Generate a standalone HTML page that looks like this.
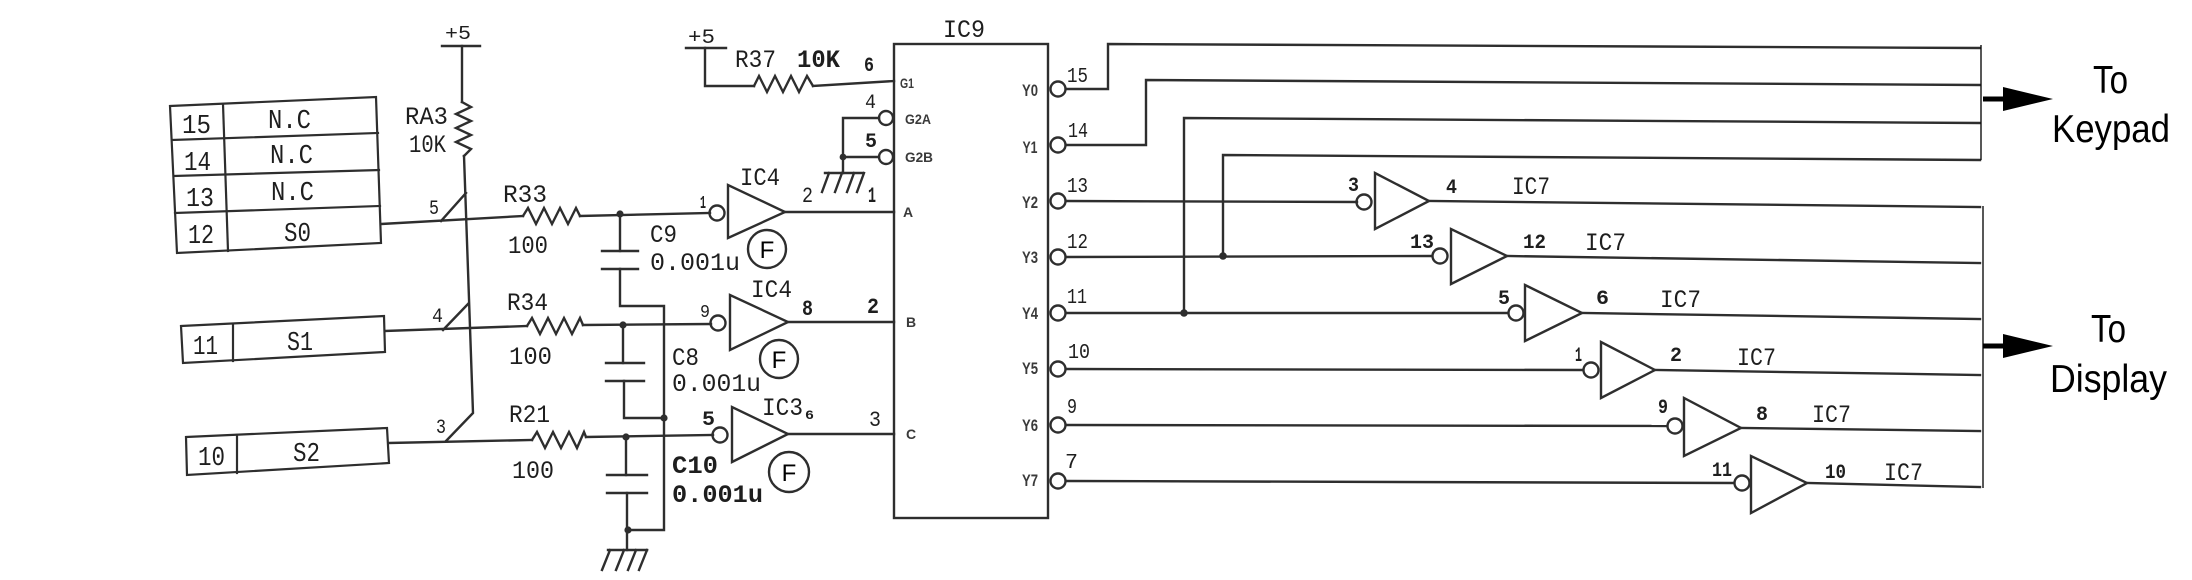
<!DOCTYPE html>
<html><head><meta charset="utf-8"><style>
html,body{margin:0;padding:0;background:#fff;}
svg{display:block;}
.w{fill:none;stroke:#2e2e2e;stroke-width:2.4;stroke-linejoin:miter;stroke-linecap:square;}
.t{fill:none;stroke:#111;stroke-width:1.4;}
.m{font-family:"Liberation Mono",monospace;fill:#1e1e1e;}
.b{font-family:"Liberation Sans",sans-serif;font-weight:bold;fill:#3a3a3a;}
.s{font-family:"Liberation Sans",sans-serif;fill:#000;}
</style></head><body>
<svg width="2192" height="580" viewBox="0 0 2192 580" xmlns="http://www.w3.org/2000/svg">
<rect width="2192" height="580" fill="#fff"/>

<!-- Connector boxes -->
<g class="w" style="stroke-width:2.2">
<polygon points="170,106 376,97 381,243 177,253"/>
<line x1="223" y1="104" x2="228" y2="251"/>
<line x1="172" y1="140" x2="378" y2="133"/>
<line x1="174" y1="176" x2="379" y2="170"/>
<line x1="175" y1="213" x2="380" y2="206"/>
<polygon points="181,326 384,316 385,352 183,363"/>
<line x1="233" y1="324" x2="233" y2="361"/>
<polygon points="186,437 387,428 389,463 187,475"/>
<line x1="237" y1="435" x2="237" y2="473"/>
</g>
<g class="m" font-size="27">
<text x="182" y="133" textLength="29" lengthAdjust="spacingAndGlyphs">15</text>
<text x="268" y="128" textLength="43" lengthAdjust="spacingAndGlyphs">N.C</text>
<text x="184" y="170" textLength="27" lengthAdjust="spacingAndGlyphs">14</text>
<text x="270" y="163" textLength="43" lengthAdjust="spacingAndGlyphs">N.C</text>
<text x="186" y="206" textLength="28" lengthAdjust="spacingAndGlyphs">13</text>
<text x="271" y="200" textLength="43" lengthAdjust="spacingAndGlyphs">N.C</text>
<text x="188" y="243" textLength="26" lengthAdjust="spacingAndGlyphs">12</text>
<text x="284" y="241" textLength="27" lengthAdjust="spacingAndGlyphs">S0</text>
<text x="193" y="354" textLength="25" lengthAdjust="spacingAndGlyphs">11</text>
<text x="287" y="350" textLength="26" lengthAdjust="spacingAndGlyphs">S1</text>
<text x="198" y="465" textLength="27" lengthAdjust="spacingAndGlyphs">10</text>
<text x="293" y="461" textLength="27" lengthAdjust="spacingAndGlyphs">S2</text>
</g>

<!-- RA3 pull-up and bus -->
<g class="w">
<path d="M442,46 H480"/>
<path d="M462,46 V102"/>
<path d="M462,102 L471,107 L456,114 L471,121 L456,128 L471,135 L456,142 L471,149 L464,156"/>
<path d="M464,156 L473,413 L446,441"/>
<path d="M441,221 L466,193"/>
<path d="M443,330 L468,304"/>
<!-- S lines -->
<path d="M381,224 L523,216"/>
<path d="M523,216 L528,208 L536,224 L544,208 L552,224 L560,208 L568,224 L576,208 L580,216"/>
<path d="M580,216 L710,213"/>
<path d="M385,331 L527,326"/>
<path d="M527,326 L532,318 L540,334 L548,318 L556,334 L564,318 L572,334 L580,318 L583,325"/>
<path d="M583,325 L711,324"/>
<path d="M389,443 L532,440"/>
<path d="M532,440 L537,432 L545,448 L553,432 L561,448 L569,432 L577,448 L584,432 L586,437"/>
<path d="M586,437 L713,435"/>
<!-- capacitors -->
<path d="M620,214 V251"/>
<path d="M602,251 H638"/>
<path d="M602,269 H638"/>
<path d="M620,269 V306 H664 V530 H628"/>
<path d="M623,325 V363"/>
<path d="M606,363 H644"/>
<path d="M606,381 H644"/>
<path d="M624,381 V418 H664"/>
<path d="M626,437 V475"/>
<path d="M607,475 H647"/>
<path d="M607,493 H647"/>
<path d="M627,493 V550"/>
<path d="M608,550 H647"/>
<path d="M610,550 L602,570 M624,550 L616,570 M636,550 L628,570 M647,550 L639,570"/>
</g>
<g fill="#2e2e2e">
<circle cx="620" cy="214" r="3.6"/>
<circle cx="623" cy="325" r="3.6"/>
<circle cx="626" cy="437" r="3.6"/>
<circle cx="664" cy="418" r="3.6"/>
<circle cx="628" cy="530" r="3.6"/>
<circle cx="843" cy="157" r="3.4"/>
<circle cx="1223" cy="256" r="3.8"/>
<circle cx="1184" cy="313" r="3.8"/>
</g>

<g class="m" font-size="25">
<text x="445" y="39" font-size="19" textLength="26" lengthAdjust="spacingAndGlyphs">+5</text>
<text x="405" y="124" textLength="43" lengthAdjust="spacingAndGlyphs">RA3</text>
<text x="409" y="152" textLength="37" lengthAdjust="spacingAndGlyphs">10K</text>
<text x="429" y="214" font-size="20" textLength="10" lengthAdjust="spacingAndGlyphs">5</text>
<text x="432" y="322" font-size="20" textLength="11" lengthAdjust="spacingAndGlyphs">4</text>
<text x="436" y="433" font-size="20" textLength="10" lengthAdjust="spacingAndGlyphs">3</text>
<text x="503" y="202" textLength="44" lengthAdjust="spacingAndGlyphs">R33</text>
<text x="508" y="253" textLength="40" lengthAdjust="spacingAndGlyphs">100</text>
<text x="507" y="310" textLength="41" lengthAdjust="spacingAndGlyphs">R34</text>
<text x="509" y="364" textLength="43" lengthAdjust="spacingAndGlyphs">100</text>
<text x="509" y="422" textLength="41" lengthAdjust="spacingAndGlyphs">R21</text>
<text x="512" y="478" textLength="42" lengthAdjust="spacingAndGlyphs">100</text>
</g>

<!-- IC9 top-left -->
<g class="w">
<path d="M686,48 H726"/>
<path d="M705,48 V86 H754"/>
<path d="M754,86 L759,76 L767,92 L775,76 L783,92 L791,76 L799,92 L807,76 L813,86"/>
<path d="M813,86 L894,81"/>
<rect x="894" y="44" width="154" height="474"/>
<circle cx="886" cy="118" r="7"/>
<circle cx="886" cy="157" r="7"/>
<path d="M879,118 H843 V173"/>
<path d="M879,157 H843"/>
<path d="M825,173 H863"/>
<path d="M829,173 L822,192 M842,173 L835,192 M854,173 L847,192 M864,173 L857,192"/>
<!-- IC4/IC3 gates -->
<circle cx="717" cy="213" r="7.5"/>
<path d="M728,185 L728,238 L785,212 Z"/>
<path d="M785,212 L894,212"/>
<circle cx="718" cy="323" r="7.5"/>
<path d="M730,295 L730,350 L788,322 Z"/>
<path d="M788,322 H894"/>
<circle cx="720" cy="435" r="7.5"/>
<path d="M732,407 L732,462 L788,434 Z"/>
<path d="M788,434 H894"/>
<!-- F circles -->
<circle cx="767" cy="249" r="19"/>
<circle cx="779" cy="359" r="19"/>
<circle cx="789" cy="472" r="20"/>
</g>
<g class="s" font-size="24" fill="#222" text-anchor="middle">
<text x="767" y="258">F</text>
<text x="779" y="368">F</text>
<text x="789" y="481">F</text>
</g>

<g class="m" font-size="25">
<text x="688" y="43" font-size="20" textLength="27" lengthAdjust="spacingAndGlyphs">+5</text>
<text x="735" y="67" textLength="41" lengthAdjust="spacingAndGlyphs">R37</text>
<text x="797" y="67" font-weight="bold" textLength="43" lengthAdjust="spacingAndGlyphs">10K</text>
<text x="864" y="71" font-size="20" font-weight="bold" textLength="10" lengthAdjust="spacingAndGlyphs">6</text>
<text x="943" y="37" textLength="42" lengthAdjust="spacingAndGlyphs">IC9</text>
<text x="865" y="108" font-size="20" textLength="11" lengthAdjust="spacingAndGlyphs">4</text>
<text x="865" y="147" font-size="20" font-weight="bold" textLength="12" lengthAdjust="spacingAndGlyphs">5</text>
<text x="802" y="202" font-size="22" textLength="11" lengthAdjust="spacingAndGlyphs">2</text>
<text x="868" y="202" font-size="22" font-weight="bold" textLength="8" lengthAdjust="spacingAndGlyphs">1</text>
<text x="740" y="185" textLength="40" lengthAdjust="spacingAndGlyphs">IC4</text>
<text x="700" y="208" font-size="18" font-weight="bold" textLength="6" lengthAdjust="spacingAndGlyphs">1</text>
<text x="751" y="297" textLength="41" lengthAdjust="spacingAndGlyphs">IC4</text>
<text x="700" y="317" font-size="18" textLength="10" lengthAdjust="spacingAndGlyphs">9</text>
<text x="802" y="315" font-size="22" font-weight="bold" textLength="11" lengthAdjust="spacingAndGlyphs">8</text>
<text x="867" y="313" font-size="22" font-weight="bold" textLength="12" lengthAdjust="spacingAndGlyphs">2</text>
<text x="762" y="415" textLength="41" lengthAdjust="spacingAndGlyphs">IC3</text>
<text x="805" y="419" font-size="13" font-weight="bold" textLength="9" lengthAdjust="spacingAndGlyphs">6</text>
<text x="702" y="425" font-size="20" font-weight="bold" textLength="13" lengthAdjust="spacingAndGlyphs">5</text>
<text x="869" y="426" font-size="22" textLength="12" lengthAdjust="spacingAndGlyphs">3</text>
<text x="650" y="242" textLength="27" lengthAdjust="spacingAndGlyphs">C9</text>
<text x="650" y="270" textLength="90" lengthAdjust="spacingAndGlyphs">0.001u</text>
<text x="672" y="365" textLength="27" lengthAdjust="spacingAndGlyphs">C8</text>
<text x="672" y="391" textLength="89" lengthAdjust="spacingAndGlyphs">0.001u</text>
<text x="672" y="473" font-weight="bold" textLength="46" lengthAdjust="spacingAndGlyphs">C10</text>
<text x="672" y="502" font-weight="bold" textLength="91" lengthAdjust="spacingAndGlyphs">0.001u</text>
</g>

<!-- IC9 internal labels -->
<g class="b" font-size="14" text-anchor="middle">
<text x="907" y="88" textLength="14" lengthAdjust="spacingAndGlyphs">G1</text>
<text x="918" y="124" textLength="26" lengthAdjust="spacingAndGlyphs">G2A</text>
<text x="919" y="162" textLength="28" lengthAdjust="spacingAndGlyphs">G2B</text>
<text x="908" y="217">A</text>
<text x="911" y="327">B</text>
<text x="911" y="439">C</text>
</g>
<g class="b" font-size="17" text-anchor="middle">
<text x="1030" y="96" textLength="16" lengthAdjust="spacingAndGlyphs">Y0</text>
<text x="1030" y="153" textLength="15" lengthAdjust="spacingAndGlyphs">Y1</text>
<text x="1030" y="208" textLength="16" lengthAdjust="spacingAndGlyphs">Y2</text>
<text x="1030" y="263" textLength="16" lengthAdjust="spacingAndGlyphs">Y3</text>
<text x="1030" y="319" textLength="16" lengthAdjust="spacingAndGlyphs">Y4</text>
<text x="1030" y="374" textLength="16" lengthAdjust="spacingAndGlyphs">Y5</text>
<text x="1030" y="431" textLength="16" lengthAdjust="spacingAndGlyphs">Y6</text>
<text x="1030" y="486" textLength="16" lengthAdjust="spacingAndGlyphs">Y7</text>
</g>
<g class="m" font-size="21">
<text x="1067" y="82" textLength="21" lengthAdjust="spacingAndGlyphs">15</text>
<text x="1068" y="137" textLength="20" lengthAdjust="spacingAndGlyphs">14</text>
<text x="1067" y="192" textLength="21" lengthAdjust="spacingAndGlyphs">13</text>
<text x="1067" y="248" textLength="21" lengthAdjust="spacingAndGlyphs">12</text>
<text x="1067" y="303" textLength="20" lengthAdjust="spacingAndGlyphs">11</text>
<text x="1068" y="358" textLength="22" lengthAdjust="spacingAndGlyphs">10</text>
<text x="1067" y="413" textLength="10" lengthAdjust="spacingAndGlyphs">9</text>
<text x="1065" y="468" textLength="13" lengthAdjust="spacingAndGlyphs">7</text>
</g>

<!-- IC9 outputs -->
<g class="w">
<circle cx="1058" cy="89" r="7.5"/>
<circle cx="1058" cy="145" r="7.5"/>
<circle cx="1058" cy="201" r="7.5"/>
<circle cx="1058" cy="257" r="7.5"/>
<circle cx="1058" cy="313" r="7.5"/>
<circle cx="1058" cy="369" r="7.5"/>
<circle cx="1058" cy="425" r="7.5"/>
<circle cx="1058" cy="481" r="7.5"/>
<path d="M1066,89 H1108 V44 L1980,48"/>
<path d="M1066,145 H1146 V80 L1980,85"/>
<path d="M1184,313 V118 L1980,123"/>
<path d="M1223,256 V155 L1980,160"/>
<path d="M1066,201 L1357,202"/>
<path d="M1066,257 L1432,256"/>
<path d="M1066,313 L1508,313"/>
<path d="M1066,369 L1583,370"/>
<path d="M1066,425 L1667,426"/>
<path d="M1066,481 L1734,483"/>
<!-- IC7 gates -->
<circle cx="1364" cy="202" r="7.5"/>
<path d="M1375,173 L1375,229 L1429,201 Z"/>
<path d="M1429,201 L1980,207"/>
<circle cx="1440" cy="256" r="7.5"/>
<path d="M1451,229 L1451,284 L1507,256 Z"/>
<path d="M1507,256 L1980,263"/>
<circle cx="1516" cy="313" r="7.5"/>
<path d="M1525,285 L1525,341 L1582,313 Z"/>
<path d="M1582,313 L1980,319"/>
<circle cx="1591" cy="370" r="7.5"/>
<path d="M1601,342 L1601,398 L1655,370 Z"/>
<path d="M1655,370 L1980,375"/>
<circle cx="1675" cy="426" r="7.5"/>
<path d="M1684,398 L1684,456 L1741,428 Z"/>
<path d="M1741,428 L1980,431"/>
<circle cx="1742" cy="483" r="7.5"/>
<path d="M1751,456 L1751,513 L1807,483 Z"/>
<path d="M1807,483 L1980,487"/>
</g>
<g class="m" font-size="20">
<text x="1348" y="191" font-weight="bold" textLength="11" lengthAdjust="spacingAndGlyphs">3</text>
<text x="1446" y="193" font-weight="bold" textLength="11" lengthAdjust="spacingAndGlyphs">4</text>
<text x="1512" y="194" font-size="25" textLength="38" lengthAdjust="spacingAndGlyphs">IC7</text>
<text x="1410" y="248" font-weight="bold" textLength="24" lengthAdjust="spacingAndGlyphs">13</text>
<text x="1523" y="248" font-weight="bold" textLength="23" lengthAdjust="spacingAndGlyphs">12</text>
<text x="1585" y="250" font-size="25" textLength="41" lengthAdjust="spacingAndGlyphs">IC7</text>
<text x="1498" y="304" font-weight="bold" textLength="12" lengthAdjust="spacingAndGlyphs">5</text>
<text x="1596" y="304" font-weight="bold" textLength="13" lengthAdjust="spacingAndGlyphs">6</text>
<text x="1660" y="307" font-size="25" textLength="41" lengthAdjust="spacingAndGlyphs">IC7</text>
<text x="1575" y="361" font-weight="bold" textLength="7" lengthAdjust="spacingAndGlyphs">1</text>
<text x="1670" y="361" font-weight="bold" textLength="12" lengthAdjust="spacingAndGlyphs">2</text>
<text x="1737" y="365" font-size="25" textLength="39" lengthAdjust="spacingAndGlyphs">IC7</text>
<text x="1658" y="413" font-weight="bold" textLength="10" lengthAdjust="spacingAndGlyphs">9</text>
<text x="1756" y="420" font-weight="bold" textLength="12" lengthAdjust="spacingAndGlyphs">8</text>
<text x="1812" y="422" font-size="25" textLength="39" lengthAdjust="spacingAndGlyphs">IC7</text>
<text x="1712" y="476" font-weight="bold" textLength="20" lengthAdjust="spacingAndGlyphs">11</text>
<text x="1825" y="478" font-weight="bold" textLength="21" lengthAdjust="spacingAndGlyphs">10</text>
<text x="1884" y="480" font-size="25" textLength="39" lengthAdjust="spacingAndGlyphs">IC7</text>
</g>

<!-- brackets and arrows -->
<g class="t">
<path d="M1981,45 V160"/>
<path d="M1983,206 V488"/>
</g>
<path d="M1983,99 H2006" stroke="#000" stroke-width="5" fill="none"/>
<polygon points="2003,87 2053,99 2003,111" fill="#000"/>
<path d="M1983,346 H2006" stroke="#000" stroke-width="5" fill="none"/>
<polygon points="2003,334 2053,346 2003,358" fill="#000"/>
<g class="s" font-size="39">
<text x="2093" y="93" textLength="35" lengthAdjust="spacingAndGlyphs">To</text>
<text x="2052" y="142" textLength="118" lengthAdjust="spacingAndGlyphs">Keypad</text>
<text x="2091" y="342" textLength="35" lengthAdjust="spacingAndGlyphs">To</text>
<text x="2050" y="392" textLength="117" lengthAdjust="spacingAndGlyphs">Display</text>
</g>
</svg>
</body></html>
